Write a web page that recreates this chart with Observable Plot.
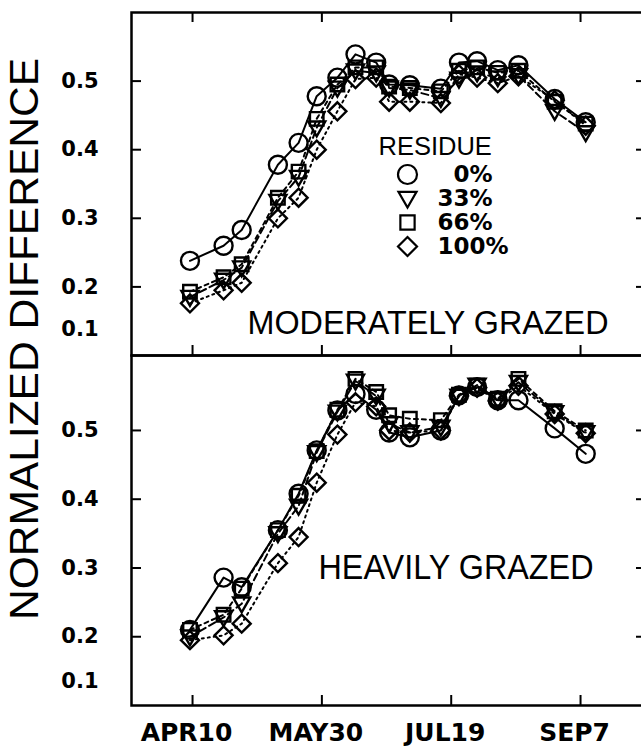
<!DOCTYPE html>
<html><head><meta charset="utf-8">
<script src="https://cdn.jsdelivr.net/npm/d3@7"></script>
<script src="https://cdn.jsdelivr.net/npm/@observablehq/plot@0.6"></script>
<style>
html,body{margin:0;padding:0;background:#fff;overflow:hidden;}
#wrap{position:relative;width:641px;height:749px;overflow:hidden;background:#fff;}
#wrap > svg{position:absolute;left:0;top:0;}
</style></head><body><div id="wrap"></div>
<script>
// ---- data (day of year; APR10 = 100) ----
const days = [99,112,119,133,141,148,156,163,171,176,184,196,203,210,218,226,240,252];
const tickDays = [100,150,200,250];
const tickLabels = ["APR10","MAY30","JUL19","SEP7"];
const yTicks = [0.2,0.3,0.4,0.5];
const residues = ["0%","33%","66%","100%"];

// MODERATELY GRAZED
const modRes0   = [0.238,0.260,0.283,0.378,0.410,0.478,0.505,0.539,0.527,0.495,0.494,0.489,0.527,0.529,0.516,0.523,0.474,0.440];
const modRes33  = [0.185,0.210,0.228,0.325,0.360,0.432,0.490,0.515,0.512,0.490,0.487,0.475,0.503,0.512,0.505,0.508,0.456,0.425];
const modRes66  = [0.193,0.214,0.233,0.330,0.368,0.445,0.495,0.520,0.520,0.492,0.490,0.485,0.515,0.520,0.512,0.515,0.470,0.438];
const modRes100 = [0.176,0.195,0.206,0.300,0.330,0.400,0.456,0.503,0.505,0.470,0.470,0.468,0.510,0.505,0.497,0.507,0.472,0.435];

// HEAVILY GRAZED
const heavyRes0   = [0.210,0.286,0.272,0.355,0.408,0.471,0.529,0.553,0.530,0.497,0.490,0.500,0.551,0.563,0.544,0.544,0.503,0.466];
const heavyRes33  = [0.200,0.228,0.248,0.350,0.390,0.468,0.527,0.572,0.550,0.510,0.497,0.505,0.550,0.566,0.545,0.570,0.526,0.497];
const heavyRes66  = [0.210,0.232,0.270,0.355,0.405,0.470,0.530,0.575,0.556,0.522,0.517,0.515,0.552,0.565,0.546,0.575,0.528,0.500];
const heavyRes100 = [0.195,0.202,0.219,0.307,0.345,0.424,0.494,0.541,0.535,0.500,0.497,0.500,0.550,0.562,0.543,0.565,0.524,0.496];

// ---- symbols & styles ----
const rad = s => Math.sqrt(s / Math.PI);
const symCircle = {draw(c, s){ const r = rad(s); c.moveTo(r,0); c.arc(0,0,r,0,2*Math.PI); c.closePath(); }};
const symTriDown = {draw(c, s){ const r = rad(s); c.moveTo(-0.95*r,-0.7*r); c.lineTo(0.95*r,-0.7*r); c.lineTo(0,0.95*r); c.closePath(); }};
const symSquare = {draw(c, s){ const r = rad(s), h = 0.75*r; c.moveTo(-h,-h); c.lineTo(h,-h); c.lineTo(h,h); c.lineTo(-h,h); c.closePath(); }};
const symDiamond = {draw(c, s){ const r = rad(s); c.moveTo(0,-r); c.lineTo(r,0); c.lineTo(0,r); c.lineTo(-r,0); c.closePath(); }};
const symbols = [symCircle, symTriDown, symSquare, symDiamond];
const dashes = [null, "7,4", "4,4", "2,4"];

const W = 646, H = 749, ML = 131;
const xDomain = [76.4, 275.5];
const numFont = "DejaVu Sans";
const txtFont = "Liberation Sans";

function panel(series, {top, bottom, yMax, label, lx, ly, fs, isBottom}) {
  const plotW = W - ML, plotH = H - bottom - top;
  const marks = [
    Plot.tickY(yTicks, {y: d => d, insetRight: plotW - 10, stroke: "black", strokeWidth: 2}),
    Plot.tickY(yTicks, {y: d => d, insetLeft: plotW - 10, stroke: "black", strokeWidth: 2}),
    Plot.tickX(tickDays, {x: d => d, insetTop: plotH - 10, stroke: "black", strokeWidth: 2}),
    Plot.axisY(yTicks, {anchor: "left", label: null, tickSize: 0, tickPadding: 33, tickFormat: d3.format(".1f"),
      fontSize: 21, fontWeight: "bold", fontFamily: numFont, fill: "black"}),
    Plot.axisY([0.1], {anchor: "left", label: null, tickSize: 0, tickPadding: 33, tickFormat: d3.format(".1f"),
      fontSize: 21, fontWeight: "bold", fontFamily: numFont, fill: "black", dy: isBottom ? -24 : -26})
  ];
  if (!isBottom) marks.push(Plot.tickX(tickDays, {x: d => d, insetBottom: plotH - 10, stroke: "black", strokeWidth: 2}));
  if (isBottom) marks.push(Plot.axisX(tickDays, {anchor: "bottom", label: null, tickSize: 0, tickPadding: 18,
      tickFormat: d => tickLabels[tickDays.indexOf(d)], fontSize: 25, fontWeight: "bold", fontFamily: numFont, fill: "black", dx: -6}));
  residues.forEach((res, s) => {
    const rows = days.map((day, i) => ({day, v: series[s][i], res}));
    marks.push(Plot.line(rows, {x: "day", y: "v", stroke: "black", strokeWidth: 2, strokeDasharray: dashes[s]}));
    marks.push(Plot.dot(rows, {x: "day", y: "v", symbol: symbols[s], r: 9, stroke: "black", strokeWidth: 2.4, fill: "none"}));
  });
  marks.push(Plot.text([label], {frameAnchor: "bottom-right", text: d => d, textAnchor: "end", lineAnchor: "bottom",
    dx: lx, dy: ly, fontSize: fs, fontFamily: txtFont, fill: "black"}));
  marks.push(Plot.frame({stroke: "black", strokeWidth: 2.5}));
  return Plot.plot({
    width: W, height: H, marginLeft: ML, marginRight: 0, marginTop: top, marginBottom: bottom,
    x: {domain: xDomain, axis: null}, y: {domain: [0.1, yMax]},
    style: {background: "transparent", overflow: "visible", maxWidth: "none"},
    marks
  });
}

const wrap = document.getElementById("wrap");
const topPlot = panel([modRes0, modRes33, modRes66, modRes100],
  {top: 12, bottom: H - 355, yMax: 0.6, label: "MODERATELY GRAZED", lx: -38, ly: -22, fs: 33, isBottom: false});
const botPlot = panel([heavyRes0, heavyRes33, heavyRes66, heavyRes100],
  {top: 355, bottom: H - 705, yMax: 0.609, label: "HEAVILY GRAZED", lx: -53, ly: -127, fs: 35, isBottom: true});
wrap.appendChild(topPlot);
wrap.appendChild(botPlot);

// squeeze the panel labels to their printed width
d3.select(topPlot).selectAll("text").filter(function(){ return this.textContent === "MODERATELY GRAZED"; })
  .attr("textLength", 361).attr("lengthAdjust", "spacingAndGlyphs");
d3.select(botPlot).selectAll("text").filter(function(){ return this.textContent === "HEAVILY GRAZED"; })
  .attr("textLength", 275).attr("lengthAdjust", "spacingAndGlyphs");

// legend (inside the top panel)
const legendMarks = [
  Plot.text(["RESIDUE"], {frameAnchor: "top-left", text: d => d, textAnchor: "start", lineAnchor: "top",
    dy: 6, fontSize: 25.5, fontFamily: txtFont, fill: "black"})
];
residues.forEach((res, s) => {
  legendMarks.push(Plot.dot([res], {y: d => d, frameAnchor: "left", dx: 29, symbol: symbols[s], r: 9.5,
    stroke: "black", strokeWidth: 2.2, fill: "none"}));
});
legendMarks.push(Plot.text(residues, {y: d => d, frameAnchor: "left", dx: 59, textAnchor: "start", lineAnchor: "middle",
  text: d => d.length === 2 ? "\u2007" + d : d, fontSize: 23, fontWeight: "bold", fontFamily: numFont, fill: "black"}));
const legend = Plot.plot({
  width: 140, height: 135, margin: 0,
  y: {type: "point", domain: residues, range: [43, 117], padding: 0, axis: null},
  style: {background: "transparent", overflow: "visible", maxWidth: "none"},
  marks: legendMarks
});
legend.style.left = "378px"; legend.style.top = "130px";
wrap.appendChild(legend);

// rotated y-axis title
const ttl = d3.create("svg").attr("width", 60).attr("height", 749).style("overflow", "visible");
ttl.append("text").attr("transform", "translate(38,339) rotate(-90)")
  .attr("text-anchor", "middle").attr("font-family", txtFont).attr("font-size", 41)
  .attr("textLength", 562).attr("lengthAdjust", "spacingAndGlyphs").attr("fill", "black")
  .text("NORMALIZED DIFFERENCE");
wrap.appendChild(ttl.node());
</script></body></html>
